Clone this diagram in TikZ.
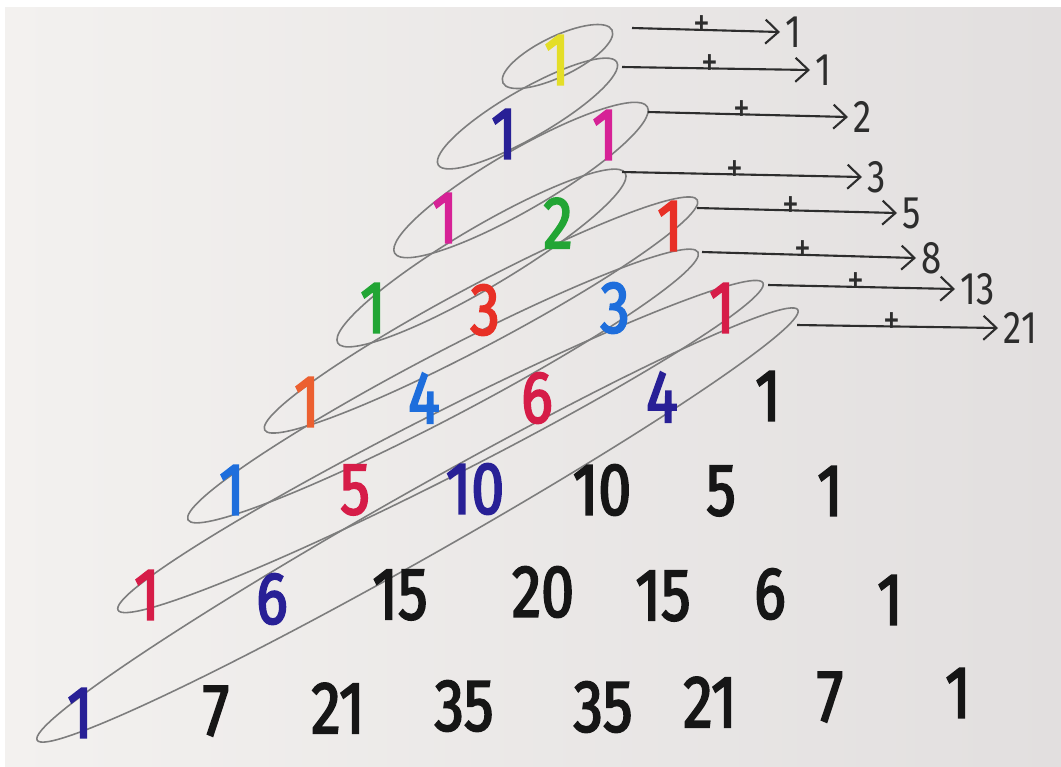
\documentclass[tikz,border=0pt]{standalone}
\usepackage{fontspec}
\newfontfamily\handfont[FakeStretch=0.8]{Fira Sans}
\newfontfamily\markerfont[FakeStretch=0.8, FakeBold=2.5]{Fira Sans}
\usetikzlibrary{arrows.meta}

\definecolor{paperL}{RGB}{243,241,239}
\definecolor{paperR}{RGB}{226,223,223}
\definecolor{mkyellow}{RGB}{228,222,40}
\definecolor{mknavy}{RGB}{40,32,150}
\definecolor{mkmagenta}{RGB}{214,34,150}
\definecolor{mkgreen}{RGB}{34,165,52}
\definecolor{mkred}{RGB}{232,48,38}
\definecolor{mkorange}{RGB}{236,96,48}
\definecolor{mkblue}{RGB}{30,110,220}
\definecolor{mkcrimson}{RGB}{214,28,72}
\definecolor{mkblack}{RGB}{22,22,22}
\definecolor{pencil}{RGB}{125,125,125}
\definecolor{ink}{RGB}{45,45,45}

\begin{document}
\begin{tikzpicture}[x=0.01cm, y=-0.01cm,
  entry/.style={font=\markerfont\fontsize{21}{24}\selectfont, inner sep=0pt, text=mkblack},
  diag/.style={pencil, line width=0.45pt},
  sumarrow/.style={ink, line width=0.6pt, -{Straight Barb[length=1.3mm, width=2.4mm]}},
  fib/.style={font=\handfont\fontsize{13}{15}\selectfont, text=ink, anchor=west, inner sep=1.5pt},
  plus/.style={font=\handfont\fontsize{12}{13}\selectfont, text=ink, inner sep=0pt, anchor=south, yshift=-2.6pt}]

\useasboundingbox (0,0) rectangle (1061,766);

% paper
\fill[white] (0,0) rectangle (1061,766);
\shade[left color=paperL, right color=paperR] (5,7) rectangle (1061,766);

% shallow diagonals, one pencil loop each
\foreach \cx/\cy/\ra/\rb/\ang in {
    557.5/56.5/60.6/20/25.9,
    527.5/113.5/103/24/29.9,
    521/180/146/30/30.1,
    481.5/258/167/30/30.6,
    481/315/245/30/28.0,
    443/386/288/32/27.7,
    440.5/446.5/361.6/32/26.9,
    417.5/525/437/33/29.5} {
  \begin{scope}[shift={(\cx,\cy)}, rotate=\ang]
    \draw[diag] (0,0) ellipse ({\ra} and {\rb});
  \end{scope}
}

% row 0
\node[entry, text=mkyellow] (r0c0) at (557,60) {1};
% row 1
\node[entry, text=mknavy] (r1c0) at (504,134) {1};
\node[entry, text=mkmagenta] (r1c1) at (605,135) {1};
% row 2
\node[entry, text=mkmagenta] (r2c0) at (445,218) {1};
\node[entry, text=mkgreen] (r2c1) at (558,223) {2};
\node[entry, text=mkred] (r2c2) at (670,226) {1};
% row 3
\node[entry, text=mkgreen] (r3c0) at (373,308) {1};
\node[entry, text=mkred] (r3c1) at (485,310) {3};
\node[entry, text=mkblue] (r3c2) at (615,308) {3};
\node[entry, text=mkcrimson] (r3c3) at (722,308) {1};
% row 4
\node[entry, text=mkorange] (r4c0) at (307,402) {1};
\node[entry, text=mkblue] (r4c1) at (424,398) {4};
\node[entry, text=mkcrimson] (r4c2) at (537,398) {6};
\node[entry, text=mknavy] (r4c3) at (662,397) {4};
\node[entry] (r4c4) at (768,396) {1};
% row 5
\node[entry, text=mkblue] (r5c0) at (232,490) {1};
\node[entry, text=mkcrimson] (r5c1) at (355,490) {5};
\node[entry, text=mknavy] (r5c2) at (475,489) {10};
\node[entry] (r5c3) at (602,490) {10};
\node[entry] (r5c4) at (721,491) {5};
\node[entry] (r5c5) at (830,491) {1};
% row 6
\node[entry, text=mkcrimson] (r6c0) at (147,595) {1};
\node[entry, text=mknavy] (r6c1) at (272,599) {6};
\node[entry] (r6c2) at (400,595) {15};
\node[entry] (r6c3) at (543,592) {20};
\node[entry] (r6c4) at (663,596) {15};
\node[entry] (r6c5) at (770,594) {6};
\node[entry] (r6c6) at (890,600) {1};
% row 7
\node[entry, text=mknavy] (r7c0) at (80,713) {1};
\node[entry] (r7c1) at (216,711) {7};
\node[entry] (r7c2) at (338,708) {21};
\node[entry] (r7c3) at (464,706) {35};
\node[entry] (r7c4) at (603,707) {35};
\node[entry] (r7c5) at (710,702) {21};
\node[entry] (r7c6) at (830,697) {7};
\node[entry] (r7c7) at (958,693) {1};

% diagonal sums
\foreach \i/\sx/\sy/\tx/\ty/\val in {
    0/632/28/780/32/1,
    1/622/67/810/70/1,
    2/648/112/848/117/2,
    3/622/172/862/177/3,
    4/697/208/897/213/5,
    5/702/252/916/258/8,
    6/768/285/955/289/13,
    7/797/325/998/328/21} {
  \coordinate (a\i) at (\sx,\sy);
  \node[fib] (f\i) at (\tx,\ty) {\val};
  \draw[sumarrow] (a\i) -- (f\i.west) node[plus, pos=0.47] {+};
}

\end{tikzpicture}
\end{document}
